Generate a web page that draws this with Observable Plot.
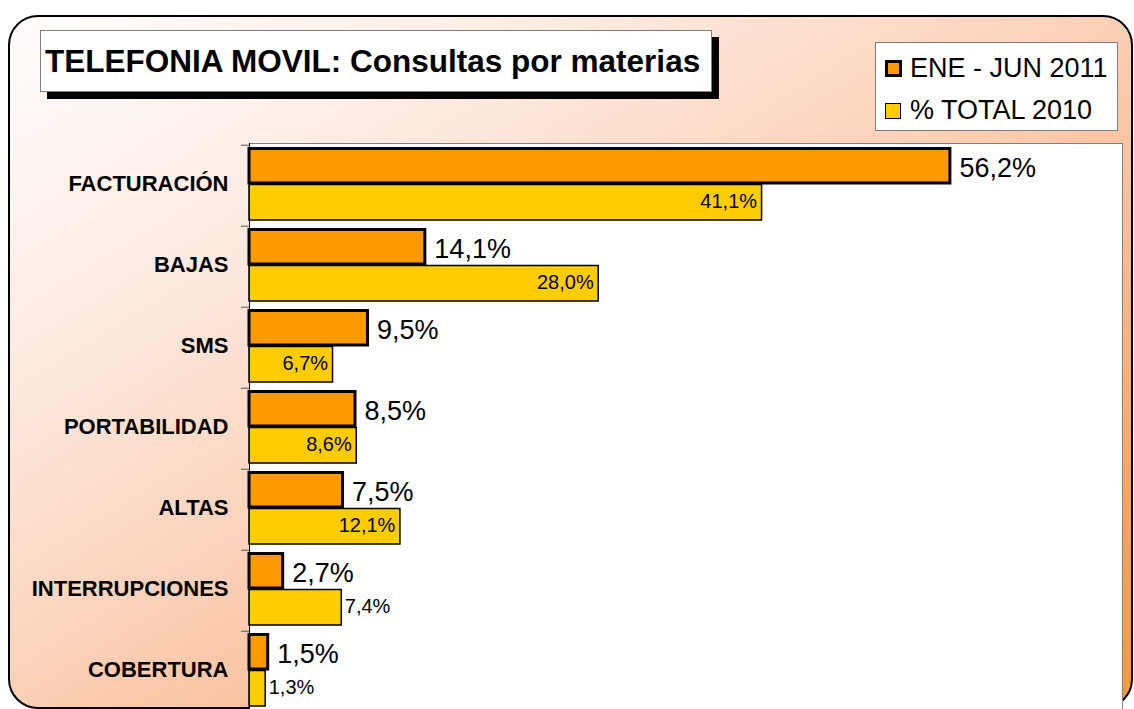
<!DOCTYPE html>
<html>
<head>
<meta charset="utf-8">
<script src="https://cdn.jsdelivr.net/npm/d3@7"></script>
<script src="https://cdn.jsdelivr.net/npm/@observablehq/plot@0.6"></script>
<style>
  html, body { margin:0; padding:0; }
  body { width:1134px; height:709px; overflow:hidden; position:relative; background:#fff;
         font-family: Arial, "Liberation Sans", sans-serif; }
  #frame { position:absolute; left:8px; top:15px; width:1125px; height:694px; box-sizing:border-box;
           border:2px solid #000; border-radius:30px;
           background: linear-gradient(to bottom right, #fffdfc 0%, #fdebe2 25%, #fbd0b6 50%, #f9bd96 65%, #fca45f 85%, #ff9933 100%); }
  #chart { position:absolute; left:0; top:0; }
  #title { position:absolute; left:40px; top:30px; width:672px; height:62px; box-sizing:border-box;
           background:#fff; border:1px solid #808080; box-shadow:7px 7px 0 #000;
           font-weight:bold; font-size:31.5px; line-height:60px; padding-left:4px; white-space:nowrap; color:#000; }
  #legend { position:absolute; left:875px; top:42px; width:243px; height:89px; box-sizing:border-box;
            background:#fff; border:1px solid #808080; }
  .sw { position:absolute; box-sizing:border-box; }
  .lt { position:absolute; left:34px; font-size:27px; line-height:30px; white-space:nowrap; color:#000; }
</style>
</head>
<body>
<div id="frame"></div>
<div id="chart"></div>
<div id="title"></div>
<div id="legend"></div>
<script>
// ---- data ----
const categories = ["FACTURACIÓN", "BAJAS", "SMS", "PORTABILIDAD", "ALTAS", "INTERRUPCIONES", "COBERTURA"];
const eneJun2011 = [56.2, 14.1, 9.5, 8.5, 7.5, 2.7, 1.5];
const total2010 = [41.1, 28.0, 6.7, 8.6, 12.1, 7.4, 1.3];
const seriesNames = ["ENE - JUN 2011", "% TOTAL 2010"];
const titleText = "TELEFONIA MOVIL: Consultas por materias";

// ---- build ----
const colors = ["#ff9900", "#ffcc00"];
const rows = categories.map((c, i) => ({cat: c, a: eneJun2011[i], b: total2010[i]}));
const locale = d3.formatLocale({decimal: ",", thousands: ".", grouping: [3], currency: ["", "€"]});
const f1 = locale.format(".1f");
const pct = v => f1(v) + "%";

const H = 714, mTop = 143;
const band = (H - mTop) / categories.length;
const inside = d => d.b >= 8 || d.cat === "SMS";

const chart = Plot.plot({
  width: 1134,
  height: H,
  marginTop: mTop,
  marginBottom: 0,
  marginLeft: 249,
  marginRight: 12,
  style: {background: "none", fontFamily: "Arial, 'Liberation Sans', sans-serif", overflow: "visible"},
  x: {domain: [0, 70], axis: null},
  y: {domain: categories, padding: 0},
  marks: [
    Plot.frame({fill: "white", stroke: "#808080"}),
    Plot.barX(rows, {x: "b", y: "cat", fill: colors[1], stroke: "#000", strokeWidth: 1.5, insetTop: 39.5, insetBottom: 6}),
    Plot.barX(rows, {x: "a", y: "cat", fill: colors[0], stroke: "#000", strokeWidth: 3, insetTop: 3.5, insetBottom: 43}),
    Plot.ruleX([0], {stroke: "#000", strokeWidth: 1}),
    Plot.axisY({tickSize: 8, tickFormat: () => "", dy: -band / 2, stroke: "#555", label: null}),
    Plot.axisY({tickSize: 0, tickPadding: 21, fontSize: 22, fontWeight: "bold", fill: "#000", label: null, dy: -2.5}),
    Plot.text(rows, {x: "a", y: "cat", text: d => pct(d.a), textAnchor: "start", dx: 9, dy: -18, fontSize: 27, fill: "#000"}),
    Plot.text(rows.filter(inside), {x: "b", y: "cat", text: d => pct(d.b), textAnchor: "end", dx: -5, dy: 15.5, fontSize: 20, fill: "#000"}),
    Plot.text(rows.filter(d => !inside(d)), {x: "b", y: "cat", text: d => pct(d.b), textAnchor: "start", dx: 3, dy: 15.5, fontSize: 20, fill: "#000"})
  ]
});
document.getElementById("chart").appendChild(chart);

document.getElementById("title").textContent = titleText;

const legend = document.getElementById("legend");
const swStyles = [
  {left: 9, top: 17, size: 17, border: 3},
  {left: 9, top: 60, size: 16, border: 1}
];
const textTops = [10, 52];
seriesNames.forEach((name, i) => {
  const sw = document.createElement("div");
  sw.className = "sw";
  const s = swStyles[i];
  Object.assign(sw.style, {left: s.left + "px", top: s.top + "px", width: s.size + "px", height: s.size + "px",
    border: s.border + "px solid #000", background: colors[i]});
  legend.appendChild(sw);
  const t = document.createElement("div");
  t.className = "lt";
  t.style.top = textTops[i] + "px";
  t.textContent = name;
  legend.appendChild(t);
});
</script>
</body>
</html>
